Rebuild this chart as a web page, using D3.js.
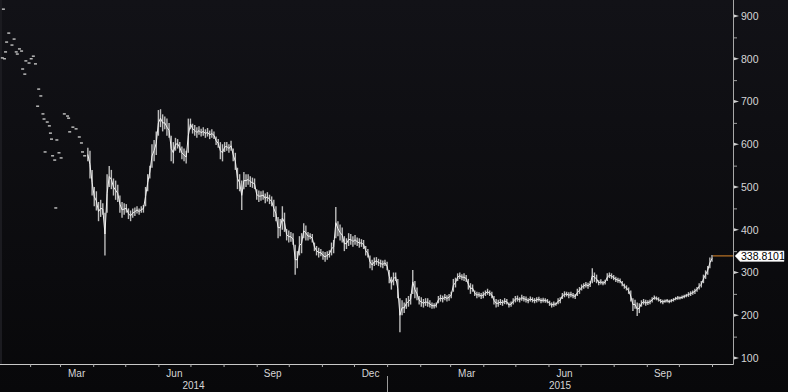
<!DOCTYPE html>
<html>
<head>
<meta charset="utf-8">
<script src="https://cdn.jsdelivr.net/npm/d3@7"></script>
<style>
  html,body{margin:0;padding:0;background:#0b0b0e;}
  svg{display:block;}
  text{font-family:"Liberation Sans",Arial,sans-serif;}
</style>
</head>
<body>
<svg id="chart" width="788" height="392"></svg>
<script>
// ---------- DATA ----------
// Sparse early prints (Jan - Mar 2014)
const dashDates = ["2014-01-07","2014-01-12","2014-01-10","2014-01-17","2014-01-15","2014-01-09","2014-01-19","2014-01-22","2014-01-24","2014-01-20",
  "2014-01-06","2014-01-08","2014-01-28","2014-02-04","2014-02-02","2014-01-31","2014-02-06","2014-01-25","2014-01-27","2014-02-09",
  "2014-02-11","2014-02-08","2014-02-13","2014-03-05","2014-03-08","2014-03-09","2014-02-14","2014-02-17","2014-02-19","2014-03-13",
  "2014-03-16","2014-03-10","2014-02-20","2014-03-19","2014-02-21","2014-02-26","2014-03-21","2014-02-15","2014-02-28","2014-03-22",
  "2014-02-22","2014-03-02","2014-02-24","2014-03-24","2014-02-25"];
const dashPrices = [916,860,839,846,832,816,816,823,818,811,
  802,800,795,806,800,790,788,776,764,729,
  713,689,671,671,666,661,659,652,643,640,
  636,629,626,617,612,610,603,582,580,582,
  573,568,563,573,451];

// Continuous bars: one bar every 2 days from barStart
const barStart = "2014-03-27";
const barStepDays = 2;
const lows = [560,520,480,455,445,420,430,435,340,440,
 500,495,480,470,465,440,428,435,440,425,
 420,428,432,438,435,440,440,455,490,520,
 545,560,575,620,640,630,635,620,615,560,
 555,585,590,580,565,560,555,580,635,625,
 620,615,622,618,620,615,618,612,615,612,
 598,592,565,560,582,585,580,585,560,540,
 495,490,446,495,500,505,500,498,495,470,
 465,468,470,462,466,460,455,430,420,380,
 385,400,395,375,370,372,365,295,310,340,
 345,380,375,375,378,370,350,340,335,338,
 330,325,330,335,340,345,380,385,375,370,
 350,355,362,365,360,365,362,358,360,355,
 340,335,310,305,315,318,315,312,310,315,
 305,275,260,270,280,240,160,200,205,215,
 220,225,250,240,235,225,220,218,222,220,
 218,215,216,218,228,232,230,235,232,234,
 240,255,265,280,285,282,280,278,260,250,
 255,245,240,242,238,240,245,248,245,240,
 225,218,220,224,222,226,225,218,220,225,
 230,232,230,234,232,230,228,232,230,228,
 230,232,228,230,229,228,222,218,220,222,
 226,228,238,242,244,240,242,240,238,245,
 250,258,262,265,262,266,275,278,275,270,
 272,270,272,280,287,285,282,278,276,275,
 268,262,258,250,232,210,215,198,205,220,
 225,222,224,226,230,236,235,232,228,226,
 229,230,228,230,232,235,236,237,238,240,
 242,243,245,248,250,255,260,265,275,285,
 295,310,325];
const highs = [592,585,540,500,490,465,470,462,440,530,
 549,540,520,515,505,480,465,462,460,450,
 445,450,452,455,450,455,458,500,530,550,
 600,610,630,680,682,670,665,660,650,620,
 605,615,612,605,595,590,585,660,660,648,
 645,640,642,636,640,635,638,632,635,630,
 618,612,605,600,605,605,600,608,590,580,
 545,530,515,535,530,530,525,522,520,495,
 492,490,492,485,488,482,478,470,455,430,
 425,455,440,402,398,395,392,365,350,385,
 392,415,410,395,392,390,370,362,358,355,
 350,348,350,352,370,376,453,420,412,405,
 385,380,392,390,385,388,382,380,378,376,
 362,355,340,330,335,336,332,330,328,330,
 325,306,290,300,300,285,240,235,230,240,
 245,250,306,280,265,245,242,238,240,240,
 235,230,228,230,245,248,246,250,247,250,
 255,285,288,298,300,296,298,294,285,275,
 272,258,255,254,252,255,258,262,258,255,
 245,238,236,238,236,240,238,230,232,240,
 245,246,242,248,245,244,240,244,242,240,
 242,243,240,241,240,238,234,230,232,230,
 240,242,252,256,255,254,255,252,250,262,
 266,272,275,278,276,280,310,300,295,282,
 284,280,283,298,300,298,294,290,288,286,
 280,274,270,265,258,240,236,230,228,235,
 238,236,235,237,242,246,244,242,238,236,
 237,238,236,238,240,243,245,244,246,248,
 250,254,256,258,262,266,275,280,295,305,
 315,335,341];
const lastPrice = 338.8101;

const yTicks = [100,200,300,400,500,600,700,800,900];
const yMinorTicks = [150,250,350,450,550,650,750,850];
const monthLabels = ["Mar","Jun","Sep","Dec","Mar","Jun","Sep"];
const monthLabelDates = ["2014-03-01","2014-06-01","2014-09-01","2014-12-01","2015-03-01","2015-06-01","2015-09-01"];
const yearLabels = ["2014","2015"];
const yearStarts = ["2014-01-01","2015-01-01"];

// ---------- CHART ----------
const W = 788, H = 392;
const axisX = 733, axisY = 364;
const parse = d3.utcParse("%Y-%m-%d");
const svg = d3.select("#chart");

const defs = svg.append("defs");
const grad = defs.append("linearGradient").attr("id","bg").attr("x1",0).attr("y1",0).attr("x2",0).attr("y2",1);
grad.append("stop").attr("offset","0%").attr("stop-color","#121217");
grad.append("stop").attr("offset","100%").attr("stop-color","#08080a");
svg.append("rect").attr("width",W).attr("height",H).attr("fill","url(#bg)");
svg.append("rect").attr("x",0).attr("y",0).attr("width",2).attr("height",axisY).attr("fill","#1b1b20");

const x = d3.scaleUtc()
  .domain([parse("2014-01-01"), parse("2015-11-01")])
  .range([-3, 712]);
const y = d3.scaleLinear().domain([100, 900]).range([358, 16]);

const plot = svg.append("g");

// sparse dashes
plot.selectAll("rect.dash").data(dashDates.map((d,i)=>({d:parse(d), p:dashPrices[i]})))
  .join("rect").attr("class","dash")
  .attr("x", d => x(d.d) - 1.5).attr("y", d => y(d.p) - 0.75)
  .attr("width", 3).attr("height", 1.5).attr("fill", "#b8b8b8");

// OHLC-like bars
const start = parse(barStart);
const bars = lows.map((lo,i)=>({d: d3.utcDay.offset(start, i*barStepDays), lo, hi: highs[i]}));
plot.selectAll("line.bar").data(bars).join("line").attr("class","bar")
  .attr("x1", d => x(d.d)).attr("x2", d => x(d.d))
  .attr("y1", d => y(d.hi)).attr("y2", d => y(d.lo))
  .attr("stroke", "#bdbdbd").attr("stroke-width", 1.4);
// thin trace through the bars' mid levels
plot.append("path").datum(bars)
  .attr("d", d3.line().x(d => x(d.d)).y(d => y((d.lo + d.hi) / 2)))
  .attr("fill", "none").attr("stroke", "#f0f0f0").attr("stroke-width", 1);

// ---------- AXES ----------
const yAxis = d3.axisRight(y).tickValues(yTicks).tickSize(0).tickPadding(8).tickFormat(d3.format("d"));
const gy = svg.append("g").attr("transform", `translate(${axisX},0)`).call(yAxis);
gy.select(".domain").remove();
gy.selectAll("text").attr("fill", "#d6d6d6").attr("font-size", "10.5px");
svg.append("line").attr("x1", axisX + 0.5).attr("x2", axisX + 0.5).attr("y1", 0).attr("y2", axisY + 0.5)
  .attr("stroke", "#a8a8a8").attr("stroke-width", 1);
svg.selectAll("path.ytri").data(yTicks).join("path").attr("class","ytri")
  .attr("d", d => `M${axisX+1},${y(d)-1.5} L${axisX+6},${y(d)} L${axisX+1},${y(d)+1.5} Z`)
  .attr("fill", "#d0d0d0");
svg.selectAll("line.yminor").data(yMinorTicks).join("line").attr("class","yminor")
  .attr("x1", axisX + 1).attr("x2", axisX + 4).attr("y1", d => y(d) + 0.5).attr("y2", d => y(d) + 0.5)
  .attr("stroke", "#a0a0a0").attr("stroke-width", 1);

svg.append("line").attr("x1", 0).attr("x2", axisX + 0.5).attr("y1", axisY + 0.5).attr("y2", axisY + 0.5)
  .attr("stroke", "#c8c8c8").attr("stroke-width", 1);
const xAxis = d3.axisBottom(x).ticks(d3.utcMonth.every(1)).tickSize(3).tickFormat("");
const gx = svg.append("g").attr("transform", `translate(0,${axisY})`).call(xAxis);
gx.select(".domain").remove();
gx.selectAll(".tick line").attr("stroke", "#b0b0b0");
gx.selectAll(".tick").filter(d => x(d) < 2 || x(d) > axisX - 2).remove();

svg.selectAll("text.mlab").data(monthLabels).join("text").attr("class","mlab")
  .attr("x", (d,i) => { const m = parse(monthLabelDates[i]); return (x(m) + x(d3.utcMonth.offset(m,1))) / 2; })
  .attr("y", 377).attr("text-anchor","middle").attr("fill","#d6d6d6").attr("font-size","10px").text(d => d);

svg.selectAll("text.ylab").data(yearLabels).join("text").attr("class","ylab")
  .attr("x", (d,i) => { const s = Math.max(0, x(parse(yearStarts[i]))); const e = Math.min(axisX, x(d3.utcYear.offset(parse(yearStarts[i]),1))); return (s+e)/2; })
  .attr("y", 389).attr("text-anchor","middle").attr("fill","#d6d6d6").attr("font-size","10px").text(d => d);
svg.append("line").attr("x1", Math.round(x(parse(yearStarts[1]))) + 0.5).attr("x2", Math.round(x(parse(yearStarts[1]))) + 0.5)
  .attr("y1", 376).attr("y2", H).attr("stroke", "#9a9a9a").attr("stroke-width", 1);

// ---------- LAST PRICE MARKER ----------
const lastBar = bars[bars.length - 1];
const ly = y(lastPrice);
svg.append("line").attr("x1", x(lastBar.d) + 1).attr("x2", axisX).attr("y1", ly).attr("y2", ly)
  .attr("stroke", "#e08a2a").attr("stroke-width", 1);
svg.append("path")
  .attr("d", `M${axisX+2},${ly} L${axisX+7},${ly-5} L${axisX+51},${ly-5} L${axisX+51},${ly+5.5} L${axisX+7},${ly+5.5} Z`)
  .attr("fill", "#ffffff").attr("stroke", "#cfcfcf").attr("stroke-width", 0.5);
svg.append("text").attr("x", axisX + 8).attr("y", ly + 4).attr("fill", "#000").attr("font-size", "10.5px")
  .text(d3.format(".4f")(lastPrice));
</script>
</body>
</html>
